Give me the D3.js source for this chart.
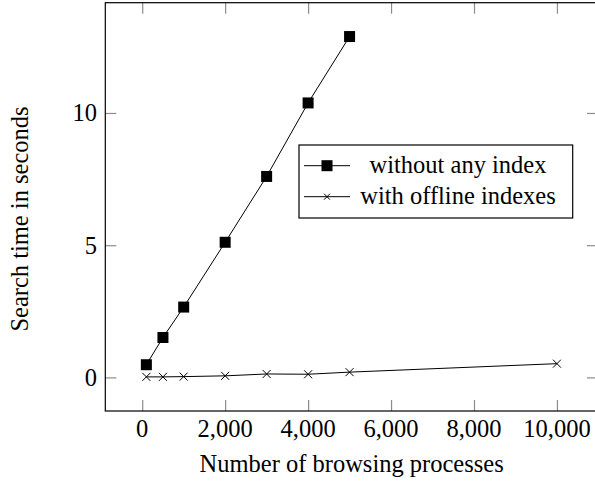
<!DOCTYPE html>
<html>
<head>
<meta charset="utf-8">
<script src="https://cdn.jsdelivr.net/npm/d3@7"></script>
<style>
  html, body { margin: 0; padding: 0; background: #fff; }
  svg { display: block; }
  text { font-family: "Liberation Serif", "Times New Roman", serif; fill: #000; }
</style>
</head>
<body>
<svg id="chart" width="595" height="483"></svg>
<script>
// ---- data ----
const processes = [100, 500, 1000, 2000, 3000, 4000, 5000];
const withoutIndex = [0.48, 1.51, 2.66, 5.11, 7.6, 10.38, 12.89];
const processesOffline = [100, 500, 1000, 2000, 3000, 4000, 5000, 10000];
const withOffline = [0.02, 0.02, 0.03, 0.06, 0.13, 0.12, 0.2, 0.52];
const xTicks = [0, 2000, 4000, 6000, 8000, 10000];
const yTicks = [0, 5, 10];
const seriesNames = ["without any index", "with offline indexes"];
const xLabel = "Number of browsing processes";
const yLabel = "Search time in seconds";

// ---- layout ----
const svg = d3.select("#chart");
const L = 105.3, R = 598, T = 2.7, B = 411;
const x = d3.scaleLinear().domain([-890, 10990]).range([L, R]);
const y = d3.scaleLinear().domain([-1.27, 14.17]).range([B, T]);
const fs = 24.5;
const tickLen = 11;
const fmt = d3.format(",");

const g = svg.append("g");

// ticks (inner, all four sides)
const tickColor = "#8c8c8c";
const xAxisB = d3.axisBottom(x).tickValues(xTicks).tickSize(-tickLen).tickFormat("");
const xAxisT = d3.axisTop(x).tickValues(xTicks).tickSize(-tickLen).tickFormat("");
const yAxisL = d3.axisLeft(y).tickValues(yTicks).tickSize(-tickLen).tickFormat("");
const yAxisR = d3.axisRight(y).tickValues(yTicks).tickSize(-tickLen).tickFormat("");
[[xAxisB, `translate(0,${B})`], [xAxisT, `translate(0,${T})`], [yAxisL, `translate(${L},0)`], [yAxisR, `translate(${R},0)`]].forEach(([ax, tr]) => {
  const a = g.append("g").attr("transform", tr).call(ax);
  a.select(".domain").remove();
  a.selectAll(".tick line").attr("stroke", tickColor).attr("stroke-width", 1.2);
});

// tick labels
g.selectAll(".xtl").data(xTicks).enter().append("text")
  .attr("x", d => x(d)).attr("y", 437)
  .attr("text-anchor", "middle").attr("font-size", fs)
  .text(d => fmt(d));
g.selectAll(".ytl").data(yTicks).enter().append("text")
  .attr("x", 97).attr("y", d => y(d)).attr("dy", "0.34em")
  .attr("text-anchor", "end").attr("font-size", fs)
  .text(d => d);

// frame
g.append("rect").attr("x", L).attr("y", T).attr("width", R - L).attr("height", B - T)
  .attr("fill", "none").attr("stroke", "#000").attr("stroke-width", 1.2);

// axis labels
g.append("text").attr("x", (L + R) / 2).attr("y", 472).attr("text-anchor", "middle")
  .attr("font-size", fs).text(xLabel);
g.append("text").attr("transform", `translate(28,219) rotate(-90)`)
  .attr("text-anchor", "middle").attr("font-size", fs).text(yLabel);

// series
const line = d3.line().x(d => x(d[0])).y(d => y(d[1]));
const s1 = processes.map((p, i) => [p, withoutIndex[i]]);
const s2 = processesOffline.map((p, i) => [p, withOffline[i]]);
g.append("path").datum(s2).attr("d", line).attr("fill", "none").attr("stroke", "#000").attr("stroke-width", 1);
g.append("path").datum(s1).attr("d", line).attr("fill", "none").attr("stroke", "#000").attr("stroke-width", 1);

const sq = 11, cr = 4;
g.selectAll(".sq").data(s1).enter().append("rect")
  .attr("x", d => x(d[0]) - sq / 2).attr("y", d => y(d[1]) - sq / 2)
  .attr("width", sq).attr("height", sq).attr("fill", "#000");
const crossPath = (cx, cy, r) => `M${cx - r},${cy - r}L${cx + r},${cy + r}M${cx - r},${cy + r}L${cx + r},${cy - r}`;
g.selectAll(".cr").data(s2).enter().append("path")
  .attr("d", d => crossPath(x(d[0]), y(d[1]), cr))
  .attr("stroke", "#000").attr("stroke-width", 1).attr("fill", "none");

// legend
const lg = g.append("g");
lg.append("rect").attr("x", 299).attr("y", 145).attr("width", 273.7).attr("height", 73)
  .attr("fill", "#fff").attr("stroke", "#000").attr("stroke-width", 1.2);
const ly = [165.7, 196.7];
seriesNames.forEach((name, i) => {
  lg.append("line").attr("x1", 304).attr("x2", 350).attr("y1", ly[i]).attr("y2", ly[i])
    .attr("stroke", "#000").attr("stroke-width", 1);
  if (i === 0) {
    lg.append("rect").attr("x", 327 - sq / 2).attr("y", ly[i] - sq / 2).attr("width", sq).attr("height", sq).attr("fill", "#000");
  } else {
    lg.append("path").attr("d", crossPath(327, ly[i], 3)).attr("stroke", "#000").attr("stroke-width", 1);
  }
  lg.append("text").attr("x", 458).attr("y", ly[i]).attr("dy", "0.3em")
    .attr("text-anchor", "middle").attr("font-size", fs).text(name);
});
</script>
</body>
</html>
